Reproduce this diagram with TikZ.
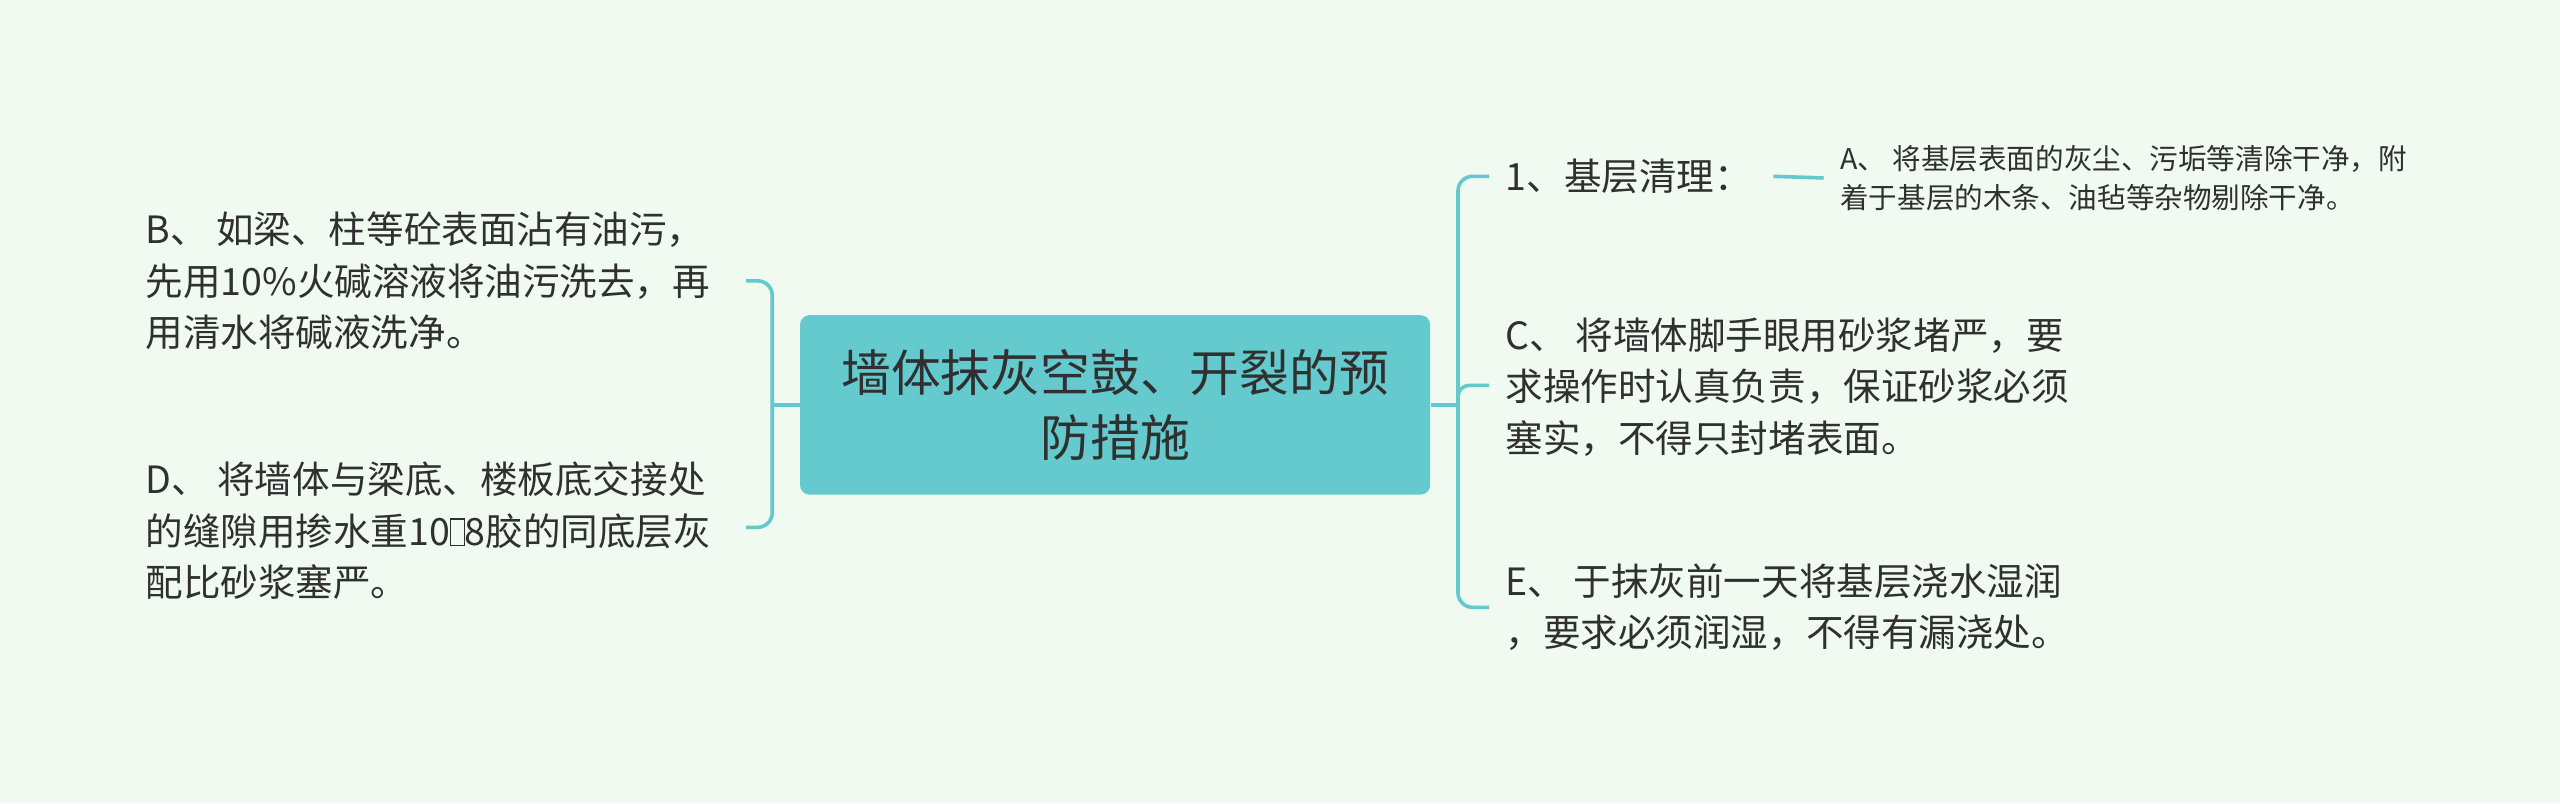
\documentclass[tikz,border=0pt]{standalone}
\usepackage{fontspec}
\setmainfont{Noto Sans CJK SC}
\usetikzlibrary{positioning}
\definecolor{bgmint}{HTML}{F0FAF0}
\definecolor{tealline}{HTML}{63C9CD}
\definecolor{tealbox}{HTML}{64CACE}
\definecolor{ink}{HTML}{303030}
\newcommand{\tofubox}{{\setlength\fboxrule{0.7pt}\setlength\fboxsep{0pt}\fbox{\rule{0pt}{0.68em}\hspace{0.33em}}}}

\begin{document}
\begin{tikzpicture}[
				x=1pt, y=-1pt,
				link/.style={tealline, line width=2.2pt, rounded corners=9pt},
				topic/.style={fill=tealbox, rounded corners=6pt, text=ink, align=center,
					minimum width=386pt, minimum height=110pt, inner sep=0pt,
					font=\fontsize{30.5}{40}\selectfont},
				leaf/.style={text=ink, align=left, anchor=west, inner sep=0pt,
					font=\fontsize{23}{31.5}\selectfont},
				note/.style={text=ink, align=left, anchor=west, inner sep=0pt,
					font=\fontsize{17.5}{24}\selectfont},
			]
				\fill[bgmint] (0,0) rectangle (1568,492);
				\useasboundingbox (0,0) rectangle (1568,492);

				\node (main) [topic] at (683,248) {墙体抹灰空鼓、开裂的预\\防措施};

				% left side
				\node (b) [leaf] at (89,172) {B、 如梁、柱等砼表面沾有油污，\\先用10\%火碱溶液将油污洗去，再\\用清水将碱液洗净。};
				\node (d) [leaf] at (89,325) {D、 将墙体与梁底、楼板底交接处\\的缝隙用掺水重10\tofubox8胶的同底层灰\\配比砂浆塞严。};

				% right side
				\node (one) [leaf] at (922,108) {1、基层清理：};
				\node (a) [note] at (1127,109) {A、 将基层表面的灰尘、污垢等清除干净，附\\着于基层的木条、油毡等杂物剔除干净。};
				\node (c) [leaf] at (922,237) {C、 将墙体脚手眼用砂浆堵严，要\\求操作时认真负责，保证砂浆必须\\塞实，不得只封堵表面。};
				\node (e) [leaf] at (922,372) {E、 于抹灰前一天将基层浇水湿润\\，要求必须润湿，不得有漏浇处。};

				\coordinate (lj) at (473,248);
				\coordinate (bt) at (457,172);
				\coordinate (dt) at (457,323);
				\coordinate (rj) at (893,248);
				\coordinate (onet) at (912,108);
				\coordinate (ct) at (912,236);
				\coordinate (et) at (912,372);

				\draw[link] (main.west) -- (lj);
				\draw[link] (bt) -| (lj) |- (dt);
				\draw[link] (main.east) -- (rj);
				\draw[link] (onet) -| (rj) |- (et);
				\draw[link, rounded corners=7pt] (rj) |- (ct);
				\draw[link] ([xshift=13pt]one.east) -- ([xshift=-10pt]a.west);
			\end{tikzpicture}
\end{document}
